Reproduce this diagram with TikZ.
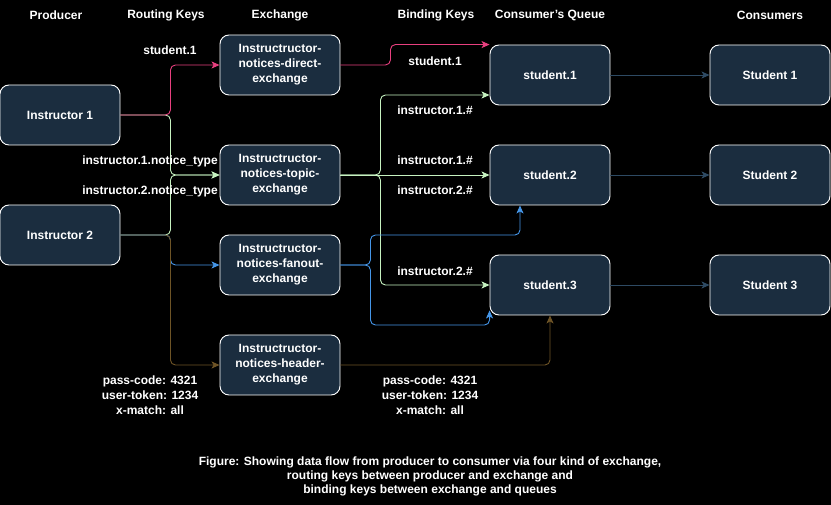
\documentclass[tikz,border=0pt]{standalone}
\usepackage{fontspec}
\setmainfont{Liberation Sans}
\usetikzlibrary{arrows.meta,calc}
\definecolor{boxfill}{HTML}{1B2D3F}
\definecolor{pinkc}{HTML}{E8407F}
\definecolor{greenc}{HTML}{C6F2C0}
\definecolor{bluec}{HTML}{4596E8}
\definecolor{brownc}{HTML}{6E5426}
\definecolor{slatec}{HTML}{2E4A63}
\tikzset{
  box/.style={draw=white, fill=boxfill, rounded corners=9pt, line width=0.9pt,
    minimum width=120pt, minimum height=60pt, inner sep=0pt, text=white, align=center,
    font=\fontsize{12}{15}\selectfont\bfseries},
  lbl/.style={text=white, inner sep=0pt, align=center, font=\fontsize{12}{15}\selectfont\bfseries},
  conn/.style={line width=0.9pt, rounded corners=5pt, -{Stealth[length=8pt,width=7pt,inset=2pt]}},
}
\begin{document}
\begin{tikzpicture}[x=1pt,y=-1pt]
\fill[black] (0,0) rectangle (831,505);
\useasboundingbox (0,0) rectangle (831,505);

% headers
\node[lbl] (hprod) at (56,15) {Producer};
\node[lbl] (hrk) at (166,15) {Routing Keys};
\node[lbl] (hex) at (280,15) {Exchange};
\node[lbl] (hbk) at (436,15) {Binding Keys};
\node[lbl] (hq) at (550,15) {Consumer's Queue};
\node[lbl] (hcons) at (770,15) {Consumers};

% nodes
\node[box] (i1) at (60,115) {Instructor 1};
\node[box] (i2) at (60,235) {Instructor 2};
\node[box] (dx) at (280,65) {Instructructor-\\notices-direct-\\exchange};
\node[box] (tx) at (280,175) {Instructructor-\\notices-topic-\\exchange};
\node[box] (fx) at (280,265) {Instructructor-\\notices-fanout-\\exchange};
\node[box] (hx) at (280,365) {Instructructor-\\notices-header-\\exchange};
\node[box] (q1) at (550,75) {student.1};
\node[box] (q2) at (550,175) {student.2};
\node[box] (q3) at (550,285) {student.3};
\node[box] (c1) at (770,75) {Student 1};
\node[box] (c2) at (770,175) {Student 2};
\node[box] (c3) at (770,285) {Student 3};

% producer -> exchange
\draw[conn, greenc] (i2.east) -- ++(50,0) |- (tx.west);
\draw[conn, bluec] (i2.east) -- ++(50,0) |- (fx.west);
\draw[conn, brownc] (i2.east) -- ++(50,0) |- (hx.west);
\draw[conn, greenc] (i1.east) -- ++(50,0) |- (tx.west);
\draw[conn, pinkc] (i1.east) -- ++(50,0) |- (dx.west);

% exchange -> queue
\draw[conn, pinkc] (dx.east) -- ++(50,0) |- (q1.north west);
\draw[conn, greenc] (tx.east) -- ++(40,0) |- ($(q1.west)+(0,20)$);
\draw[conn, greenc] (tx.east) -- (q2.west);
\draw[conn, greenc] (tx.east) -- ++(40,0) |- (q3.west);
\draw[conn, bluec] (fx.east) -- ++(30,0) -- ++(0,-30) -| ($(q2.south)+(-30,0)$);
\draw[conn, bluec] (fx.east) -- ++(30,0) -- ++(0,60) -| ($(q3.south west)+(0,-5)$);
\draw[conn, brownc] (hx.east) -| (q3.south);

% queue -> consumer
\draw[conn, slatec] (q1.east) -- (c1.west);
\draw[conn, slatec] (q2.east) -- (c2.west);
\draw[conn, slatec] (q3.east) -- (c3.west);

% routing keys
\node[lbl] (rk1) at (170,50) {student.1};
\node[lbl] (rk2) at (150,161) {instructor.1.notice\_type};
\node[lbl] (rk3) at (150,191) {instructor.2.notice\_type};
\node[lbl] (rk4) at (150,395) {pass-code: 4321\\user-token: 1234\\x-match: all};

% binding keys
\node[lbl] (bk1) at (435,61) {student.1};
\node[lbl] (bk2) at (435,110) {instructor.1.\#};
\node[lbl] (bk3) at (435,160) {instructor.1.\#};
\node[lbl] (bk4) at (435,190) {instructor.2.\#};
\node[lbl] (bk5) at (435,271) {instructor.2.\#};
\node[lbl] (bk6) at (430,395) {pass-code: 4321\\user-token: 1234\\x-match: all};

% caption
\node[text=white, inner sep=0pt, align=center, font=\fontsize{12}{14}\selectfont\bfseries] (cap) at (430,476)
  {Figure: Showing data flow from producer to consumer via four kind of exchange,\\
   routing keys between producer and exchange and\\
   binding keys between exchange and queues};
\end{tikzpicture}
\end{document}
